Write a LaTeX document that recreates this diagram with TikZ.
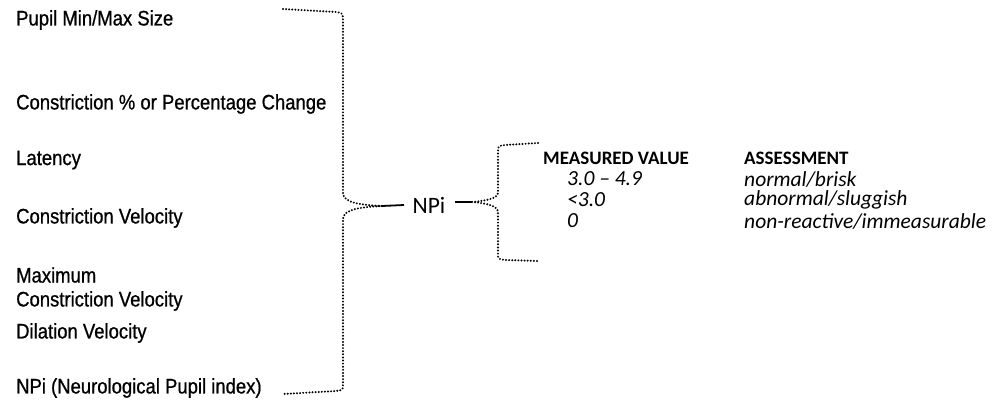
\documentclass[tikz,border=0pt]{standalone}
\usepackage{fontspec}
\setmainfont{Carlito}
\newfontfamily\listfont[FakeStretch=0.88,FakeBold=0.8]{Liberation Sans}
\usepackage{tikz}
\usetikzlibrary{calc}
\newcommand{\lfs}{\listfont\fontsize{21}{24}\selectfont}
\newcommand{\tfs}{\fontsize{21.5}{25}\selectfont}

\begin{document}
\begin{tikzpicture}[x=1pt,y=-1pt,
  lbl/.style={anchor=west,inner sep=0pt,font=\lfs},
  cell/.style={anchor=west,inner sep=0pt,font=\tfs\itshape},
  head/.style={anchor=west,inner sep=0pt,font=\fontsize{19}{22}\selectfont\bfseries},
  brace/.style={line width=2.2pt,line cap=round,dash pattern=on 0pt off 3.1pt},
  stem/.style={line width=1.8pt}]
\useasboundingbox (0,0) rectangle (1005,402);
% parameter list
\node[lbl] (pmin) at (16,20) {Pupil Min/Max Size};
\node[lbl] (cpct) at (16,104) {Constriction \% or Percentage Change};
\node[lbl] (lat) at (16,160) {Latency};
\node[lbl] (cvel) at (16,218) {Constriction Velocity};
\node[lbl] (maxa) at (16,275) {Maximum};
\node[lbl] (maxb) at (16,301) {Constriction Velocity};
\node[lbl] (dil) at (16,333) {Dilation Velocity};
\node[lbl] (npil) at (16,388) {NPi (Neurological Pupil index)};
% centre
\node[inner sep=0pt,font=\fontsize{23.5}{26}\selectfont] (npi) at (429,205) {NPi};
\coordinate (ltip) at (382,206);
\coordinate (rtip) at (472,202);
\draw[brace] (283,9) -- (336,12) .. controls (343,13) .. (343,22) -- (343,193)
  .. controls (343,203) and (362,205) .. (ltip)
  .. controls (362,207) and (343,209) .. (343,219) -- (343,384)
  .. controls (343,390) .. (336,391) -- (283,394);
\draw[stem] (ltip) -- (npi.west -| 404,0);
\draw[brace] (538,143) -- (505,145) .. controls (498,146) .. (498,152) -- (498,193)
  .. controls (498,198) and (486,201) .. (rtip)
  .. controls (486,203) and (498,206) .. (498,212) -- (498,254)
  .. controls (498,259) .. (505,260) -- (540,261);
\draw[stem] (rtip) -- (455,202);
% table
\node[head] (hmv) at (543,158) {MEASURED VALUE};
\node[head] (has) at (744,158) {ASSESSMENT};
\node[cell] (v1) at (567,179) {3.0 – 4.9};
\node[cell] (v2) at (567,200) {<3.0};
\node[cell] (v3) at (567,221) {0};
\node[cell] (a1) at (744,179) {normal/brisk};
\node[cell] (a2) at (744,200) {abnormal/sluggish};
\node[cell] (a3) at (744,221) {non-reactive/immeasurable};
\end{tikzpicture}
\end{document}
